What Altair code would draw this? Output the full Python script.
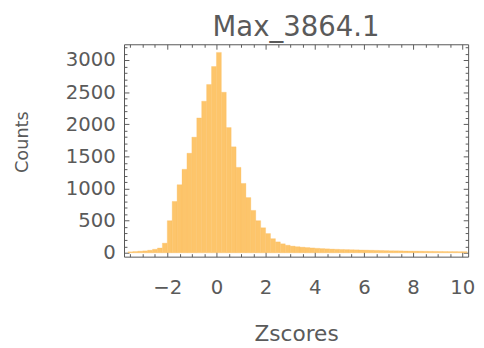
import altair as alt
import pandas as pd

# ---- data (bin start, counts; bin width 0.2) ----
bin_starts = [-3.6, -3.4, -3.2, -3.0, -2.8, -2.6, -2.4, -2.2, -2.0, -1.8,
              -1.6, -1.4, -1.2, -1.0, -0.8, -0.6, -0.4, -0.2, 0.0, 0.2,
              0.4, 0.6, 0.8, 1.0, 1.2, 1.4, 1.6, 1.8, 2.0, 2.2,
              2.4, 2.6, 2.8, 3.0, 3.2, 3.4, 3.6, 3.8, 4.0, 4.2,
              4.4, 4.6, 4.8, 5.0, 5.2, 5.4, 5.6, 5.8, 6.0, 6.2,
              6.4, 6.6, 6.8, 7.0, 7.2, 7.4, 7.6, 7.8, 8.0, 8.2,
              8.4, 8.6, 8.8, 9.0, 9.2, 9.4, 9.6, 9.8, 10.0]
counts = [15, 20, 25, 30, 40, 55, 75, 150, 500, 800,
          1060, 1300, 1550, 1800, 2100, 2360, 2620, 2900, 3120, 2500,
          1950, 1650, 1330, 1080, 860, 660, 500, 390, 300, 220,
          170, 140, 118, 104, 95, 88, 82, 76, 70, 66,
          62, 58, 55, 52, 50, 48, 46, 44, 42, 40,
          38, 36, 34, 32, 31, 30, 28, 27, 26, 25,
          24, 23, 22, 21, 20, 19, 19, 18, 18]
bin_width = 0.2

x_major = [-2, 0, 2, 4, 6, 8, 10]
x_minor = [-3.5, -3, -2.5, -1.5, -1, -0.5, 0.5, 1, 1.5, 2.5, 3, 3.5,
           4.5, 5, 5.5, 6.5, 7, 7.5, 8.5, 9, 9.5]
y_major = [0, 500, 1000, 1500, 2000, 2500, 3000]
y_minor = [100, 200, 300, 400, 600, 700, 800, 900, 1100, 1200, 1300, 1400,
           1600, 1700, 1800, 1900, 2100, 2200, 2300, 2400, 2600, 2700, 2800,
           2900, 3100, 3200]

df = pd.DataFrame({
    "start": bin_starts,
    "end": [round(s + bin_width, 2) for s in bin_starts],
    "count": counts,
})

FONT = "DejaVu Sans"
TEXT = "#5a5a5a"
TICK = "#5a5a5a"
FILL = "#FDC56B"
EDGE = "#FBBE60"

xs = alt.Scale(domain=[-3.76, 10.24], nice=False, zero=False)
ys = alt.Scale(domain=[-60, 3246], nice=False, zero=False)


def axis(orient, values, size, labels, **kw):
    return alt.Axis(orient=orient, values=values, tickSize=size, offset=-size,
                    domain=False, grid=False, labels=labels, ticks=True,
                    tickColor=TICK, tickWidth=1, **kw)


base = alt.Chart(df)

bars = base.mark_bar(color=FILL, stroke=EDGE, strokeWidth=0.3).encode(
    x=alt.X("start:Q", scale=xs,
            axis=axis("bottom", x_major, 5, True, title="Zscores",
                      labelFont=FONT, labelFontSize=20, labelColor=TEXT,
                      labelPadding=21, labelFlush=False, format="d",
                      titleFont=FONT, titleFontSize=22, titleColor=TEXT,
                      titleFontWeight="normal", titleX=175, titleY=90,
                      titleBaseline="alphabetic")),
    x2="end:Q",
    y=alt.Y("count:Q", scale=ys,
            axis=axis("left", y_major, 5, True, title="Counts",
                      labelFont=FONT, labelFontSize=20, labelColor=TEXT,
                      labelPadding=9, format="d",
                      titleFont=FONT, titleFontSize=18, titleColor=TEXT,
                      titleFontWeight="normal", titleX=-108, titleY=99,
                      titleBaseline="middle", titleAngle=270)),
    y2=alt.datum(0),
)

minor_bl = base.mark_bar(opacity=0).encode(
    x=alt.X("start:Q", scale=xs, axis=axis("bottom", x_minor, 3, False, title=None)),
    x2="end:Q",
    y=alt.Y("count:Q", scale=ys, axis=axis("left", y_minor, 3, False, title=None)),
    y2=alt.datum(0),
)

major_tr = base.mark_bar(opacity=0).encode(
    x=alt.X("start:Q", scale=xs, axis=axis("top", x_major, 5, False, title=None)),
    x2="end:Q",
    y=alt.Y("count:Q", scale=ys, axis=axis("right", y_major, 5, False, title=None)),
    y2=alt.datum(0),
)

minor_tr = base.mark_bar(opacity=0).encode(
    x=alt.X("start:Q", scale=xs, axis=axis("top", x_minor, 3, False, title=None)),
    x2="end:Q",
    y=alt.Y("count:Q", scale=ys, axis=axis("right", y_minor, 3, False, title=None)),
    y2=alt.datum(0),
)

chart = alt.layer(bars, minor_bl, major_tr, minor_tr).resolve_axis(
    x="independent", y="independent"
).properties(
    width=350,
    height=216,
    autosize="none",
    padding={"left": 118, "top": 34, "right": 8, "bottom": 90},
    title=alt.Title("Max_3864.1", font=FONT, fontSize=28, color=TEXT,
                    fontWeight="normal", anchor="middle", baseline="alphabetic",
                    offset=-20),
).configure_view(
    stroke="#555555", strokeWidth=1
)

chart.save("out.html", embed_options={"renderer": "svg", "actions": False})
